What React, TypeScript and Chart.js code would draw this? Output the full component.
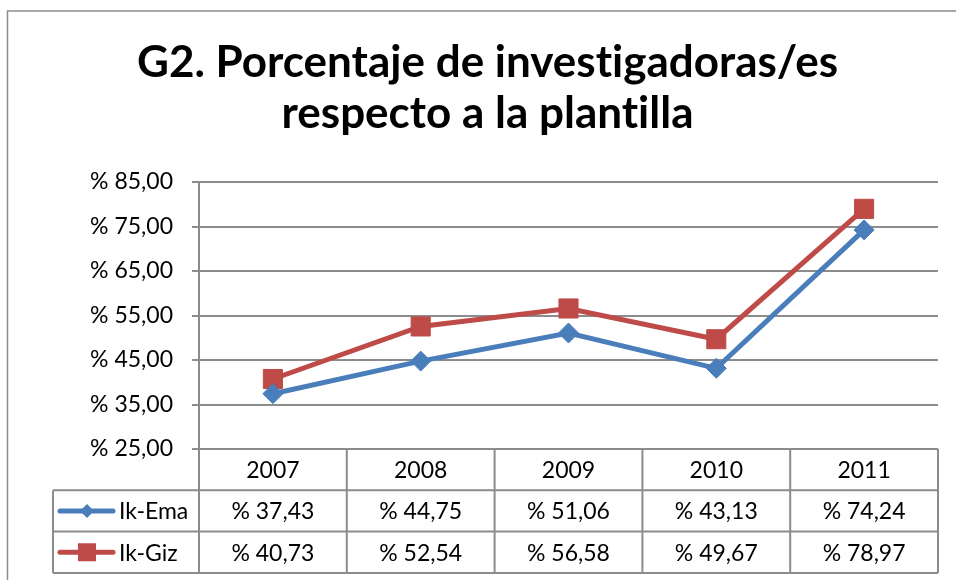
import React, { useEffect, useRef } from 'react';
import { Chart, registerables } from 'chart.js';

Chart.register(...registerables);

const years = ['2007', '2008', '2009', '2010', '2011'];
const ikEma = [37.43, 44.75, 51.06, 43.13, 74.24];
const ikGiz = [40.73, 52.54, 56.58, 49.67, 78.97];
const seriesNames = ['Ik-Ema', 'Ik-Giz'];
const titleLines = ['G2. Porcentaje de investigadoras/es', 'respecto a la plantilla'];
const yMin = 25;
const yMax = 85;
const yStep = 10;

const BLUE = '#4A7EBB';
const RED = '#BE4B48';
const GRID = '#8c8c8c';
const FONT = 'Lato, "Open Sans", sans-serif';

const fmt = (v: number) => '% ' + Number(v).toFixed(2).replace('.', ',');

const tablePlugin = {
  id: 'excelTable',
  afterDraw(chart: any) {
    const ctx: any = chart.ctx;
    const { left, right, top, bottom } = chart.chartArea;
    const xs = chart.scales.x;
    const n = years.length;
    const rowH = 41.3;
    const legendLeft = 53;

    ctx.save();
    // outer frame
    ctx.strokeStyle = GRID;
    ctx.lineWidth = 1.5;
    ctx.beginPath();
    ctx.moveTo(7.5, 580);
    ctx.lineTo(7.5, 11);
    ctx.lineTo(956, 11);
    ctx.stroke();

    // title
    ctx.fillStyle = '#000';
    ctx.font = 'bold 44px ' + FONT;
    ctx.textAlign = 'center';
    ctx.textBaseline = 'alphabetic';
    try {
      ctx.textRendering = 'optimizeSpeed';
    } catch (e) {}
    titleLines.forEach((t, i) => ctx.fillText(t, 487.5, 77 + i * 51));

    // table grid
    const y0 = bottom;
    const y1 = bottom + rowH;
    const y2 = bottom + 2 * rowH;
    const y3 = bottom + 3 * rowH;
    const bounds: number[] = [];
    for (let i = 0; i <= n; i++) {
      if (i === 0) bounds.push(left);
      else if (i === n) bounds.push(right);
      else bounds.push((xs.getPixelForValue(i - 1) + xs.getPixelForValue(i)) / 2);
    }
    ctx.strokeStyle = GRID;
    ctx.lineWidth = 2;
    ctx.beginPath();
    [y1, y2, y3].forEach((y) => {
      ctx.moveTo(legendLeft, y);
      ctx.lineTo(right, y);
    });
    bounds.forEach((bx) => {
      ctx.moveTo(bx, bx === left ? top : y0);
      ctx.lineTo(bx, y3);
    });
    ctx.moveTo(legendLeft, y1);
    ctx.lineTo(legendLeft, y3);
    ctx.stroke();

    // header labels
    ctx.fillStyle = '#000';
    ctx.font = '23px ' + FONT;
    ctx.textAlign = 'center';
    ctx.textBaseline = 'middle';
    years.forEach((yr, i) => {
      ctx.fillText(yr, xs.getPixelForValue(i), y0 + rowH / 2 + 1);
    });

    const rows = [
      { name: seriesNames[0], data: ikEma, color: BLUE, style: 'diamond' },
      { name: seriesNames[1], data: ikGiz, color: RED, style: 'square' },
    ];
    rows.forEach((r, ri) => {
      const cy = y1 + ri * rowH + rowH / 2;
      // values
      ctx.fillStyle = '#000';
      ctx.textAlign = 'center';
      r.data.forEach((v, i) => {
        ctx.fillText(fmt(v), xs.getPixelForValue(i), cy + 1);
      });
      // legend key
      ctx.strokeStyle = r.color;
      ctx.lineWidth = 5;
      ctx.lineCap = 'round';
      ctx.beginPath();
      ctx.moveTo(legendLeft + 7, cy);
      ctx.lineTo(legendLeft + 60, cy);
      ctx.stroke();
      ctx.fillStyle = r.color;
      const mx = legendLeft + 34;
      if (r.style === 'diamond') {
        const s = 7;
        ctx.beginPath();
        ctx.moveTo(mx, cy - s);
        ctx.lineTo(mx + s, cy);
        ctx.lineTo(mx, cy + s);
        ctx.lineTo(mx - s, cy);
        ctx.closePath();
        ctx.fill();
      } else {
        const s = 9;
        ctx.fillRect(mx - s, cy - s, 2 * s, 2 * s);
      }
      ctx.fillStyle = '#000';
      ctx.textAlign = 'left';
      ctx.fillText(r.name, legendLeft + 66, cy + 1);
    });
    ctx.restore();
  },
};

export default function App() {
  const ref = useRef<HTMLCanvasElement>(null);
  useEffect(() => {
    if (!ref.current) return;
    const chart = new Chart(ref.current, {
      type: 'line',
      data: {
        labels: years,
        datasets: [
          {
            label: seriesNames[0],
            data: ikEma,
            borderColor: BLUE,
            backgroundColor: BLUE,
            borderWidth: 5,
            pointStyle: 'rectRot',
            pointRadius: 10,
            pointBorderWidth: 1,
            pointBackgroundColor: BLUE,
            pointBorderColor: BLUE,
            tension: 0,
          },
          {
            label: seriesNames[1],
            data: ikGiz,
            borderColor: RED,
            backgroundColor: RED,
            borderWidth: 5,
            pointStyle: 'rect',
            pointRadius: 13.5,
            pointBorderWidth: 1,
            pointBackgroundColor: RED,
            pointBorderColor: RED,
            tension: 0,
          },
        ],
      },
      options: {
        animation: false,
        responsive: false,
        maintainAspectRatio: false,
        layout: { padding: { left: 0, right: 18, top: 182, bottom: 131 } },
        plugins: {
          legend: { display: false },
          title: { display: false },
          tooltip: { enabled: false },
        },
        scales: {
          x: { display: false, offset: true },
          y: {
            min: yMin,
            max: yMax,
            ticks: {
              stepSize: yStep,
              callback: (v: any) => fmt(Number(v)),
              font: { family: FONT, size: 23 },
              color: '#000',
              padding: 19,
            },
            grid: { color: GRID, lineWidth: 2, tickLength: 7, drawTicks: true },
            border: { color: GRID, width: 2 },
            afterFit: (s: any) => {
              s.width = 199;
            },
          },
        },
      },
      plugins: [tablePlugin],
    } as any);
    return () => chart.destroy();
  }, []);
  return (
    <div style={{ position: 'absolute', left: 0, top: 0, width: 956, height: 580, background: '#fff' }}>
      <canvas ref={ref} width={956} height={580} style={{ width: 956, height: 580, display: 'block' }} />
    </div>
  );
}
